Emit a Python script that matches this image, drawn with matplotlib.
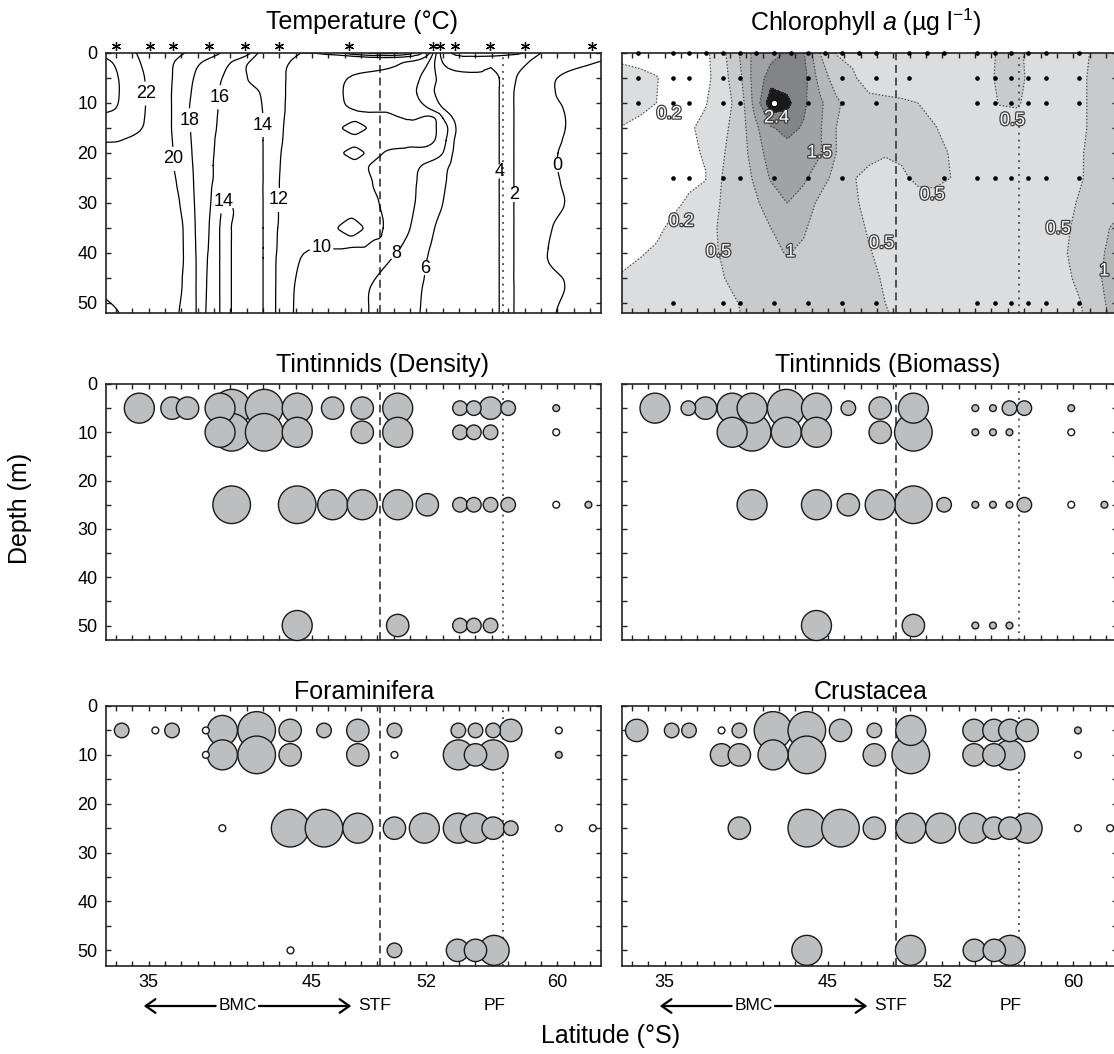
import numpy as np
import matplotlib.pyplot as plt
import matplotlib.tri as mtri
import matplotlib.patheffects as pe
from matplotlib.ticker import FixedLocator, MultipleLocator
from matplotlib.transforms import blended_transform_factory

plt.rcParams['font.family'] = ['Liberation Sans', 'DejaVu Sans']
plt.rcParams['mathtext.fontset'] = 'custom'
plt.rcParams['mathtext.rm'] = 'Liberation Sans'
plt.rcParams['mathtext.it'] = 'Liberation Sans:italic'

# fronts and axis
stf_lat = 49.15
pf_lat = 56.7
lat_ticks = [35, 45, 52, 60]

# ---------------- temperature section (isotherm crossings along each depth) ----------------
temp_depth = [0, 2, 5, 8, 11, 13, 15, 17.5, 20, 22.5, 26, 30, 35, 39, 41, 46, 52]
temp_knots = [
    [(32.39, 23.6), (34.25, 22), (37.2, 20), (39.4, 18), (41.24, 16), (41.7, 14), (44.3, 12), (52.2, 10), (52.4, 8), (52.6, 6), (52.85, 4), (59.0, 2), (62.68, 0.6)],
    [(32.39, 24.3), (32.8, 24), (34.5, 22), (36.55, 20), (38.2, 18), (40.0, 16), (41.1, 14), (43.6, 12), (50.5, 10), (52.1, 8), (52.5, 6), (53.0, 4), (56.3, 3.8), (58.2, 2), (62.3, 0), (62.68, -0.1)],
    [(32.39, 24.6), (33.15, 24), (34.75, 22), (36.45, 20), (37.75, 18), (39.5, 16), (41.05, 14), (43.4, 12), (47.2, 10), (51.6, 8), (52.6, 6), (56.45, 4), (57.5, 2), (60.0, 0), (62.68, -0.5)],
    [(32.39, 24.6), (33.2, 24), (34.85, 22), (36.4, 20), (37.6, 18), (39.35, 16), (41.8, 14), (43.38, 12), (46.9, 10), (51.4, 8), (52.5, 6), (56.45, 4), (57.35, 2), (59.9, 0), (62.68, -0.5)],
    [(32.39, 24.3), (33.0, 24), (34.8, 22), (36.4, 20), (37.5, 18), (39.25, 16), (41.95, 14), (43.35, 12), (47.3, 10), (52.1, 8), (53.0, 6), (56.45, 4), (57.35, 2), (60.35, 0), (62.68, -0.5)],
    [(32.39, 23.6), (34.75, 22), (36.4, 20), (37.5, 18), (39.2, 16), (42.0, 14), (43.3, 12), (52.5, 10), (53.0, 8), (53.6, 6), (56.45, 4), (57.35, 2), (60.5, 0), (62.68, -0.5)],
    [(32.39, 23.0), (34.6, 22), (36.4, 20), (37.55, 18), (39.15, 16), (42.0, 14), (43.25, 12), (46.5, 10.6), (47.6, 8.6), (48.7, 10.6), (50.5, 10.5), (52.6, 10), (53.3, 8), (53.8, 6), (56.45, 4), (57.35, 2), (60.5, 0), (62.68, -0.5)],
    [(32.39, 22.1), (33.3, 22), (36.45, 20), (37.6, 18), (39.05, 16), (42.0, 14), (43.2, 12), (50.5, 10.5), (52.5, 10), (53.2, 8), (53.7, 6), (56.45, 4), (57.35, 2), (60.3, 0), (62.68, -0.5)],
    [(32.39, 21.6), (36.5, 20), (37.65, 18), (39.0, 16), (42.0, 14), (43.1, 12), (46.6, 10.6), (47.6, 8.7), (48.5, 10.6), (48.9, 10.5), (49.35, 10), (53.0, 8), (53.6, 6), (56.45, 4), (57.35, 2), (60.05, 0), (62.68, -0.5)],
    [(32.39, 21.5), (36.55, 20), (37.7, 18), (38.95, 16), (42.0, 14), (43.05, 12), (48.5, 10), (51.7, 8), (53.4, 6), (56.45, 4), (57.35, 2), (60.0, 0), (62.68, -0.5)],
    [(32.39, 21.4), (36.7, 20), (37.75, 18), (38.9, 16), (42.0, 14), (43.0, 12), (48.7, 10), (51.4, 8), (53.2, 6), (56.45, 4), (57.35, 2), (60.2, 0), (62.68, -0.5)],
    [(32.39, 21.4), (36.9, 20), (37.8, 18), (38.8, 16), (39.55, 14), (39.7, 13.9), (39.85, 14), (41.0, 14.4), (42.0, 14), (42.95, 12), (49.1, 10), (51.3, 8), (53.0, 6), (56.45, 4), (57.35, 2), (60.45, 0), (62.68, -0.5)],
    [(32.39, 21.4), (37.1, 20), (37.85, 18), (38.7, 16), (39.35, 14), (39.7, 13.7), (40.06, 14), (41.0, 14.4), (42.0, 14), (42.9, 12), (46.2, 10.6), (47.4, 8.6), (48.5, 10.6), (48.95, 10.6), (49.35, 10), (51.0, 8), (52.5, 6), (56.45, 4), (57.35, 2), (59.7, 0), (62.68, -0.5)],
    [(32.39, 21.45), (37.12, 20), (37.88, 18), (38.65, 16), (39.35, 14), (39.7, 13.7), (40.06, 14), (41.0, 14.4), (42.0, 14), (42.85, 12), (47.2, 10), (50.4, 8), (52.2, 6), (56.45, 4), (57.35, 2), (59.45, 0), (62.68, -0.5)],
    [(32.39, 21.5), (37.13, 20), (37.9, 18), (38.6, 16), (39.35, 14), (39.7, 13.7), (40.06, 14), (41.0, 14.4), (42.0, 14), (42.8, 12), (44.3, 10), (49.9, 8), (52.05, 6), (56.45, 4), (57.35, 2), (59.4, 0), (62.68, -0.5)],
    [(32.39, 21.7), (37.05, 20), (37.9, 18), (38.55, 16), (39.35, 14), (39.7, 13.7), (40.06, 14), (41.0, 14.4), (42.0, 14), (42.78, 12), (43.95, 10), (48.7, 8), (51.8, 6), (56.45, 4), (57.35, 2), (60.45, 0), (62.68, -0.5)],
    [(32.39, 22.3), (33.2, 22), (36.85, 20), (37.9, 18), (38.5, 16), (39.35, 14), (39.7, 13.7), (40.06, 14), (41.0, 14.4), (42.0, 14), (42.77, 12), (43.86, 10), (48.46, 8), (51.6, 6), (56.45, 4), (57.35, 2), (59.94, 0), (62.68, -0.5)],
]
# extra readings above and below the three small eddies near 47.5 S: (lat, depth, T)
eddy_lat = [47.6, 47.6, 47.6, 47.6, 47.4, 47.4]
eddy_dep = [12.9, 17.1, 18.1, 22.0, 31.8, 37.6]
eddy_t = [10.8, 10.8, 10.8, 10.6, 10.8, 10.6]

temp_label_lat = [34.93, 38.96, 37.66, 42.12, 36.79, 39.6, 42.99, 45.5, 50.24, 51.86, 56.5, 57.3, 60.1]
temp_label_dep = [8.1, 8.7, 13.4, 14.4, 21.1, 29.8, 29.4, 40.4, 40.4, 43.0, 23.7, 28.4, 22.4]
star_lat = [33.01, 35.10, 36.52, 38.70, 40.88, 42.99, 47.26, 52.42, 52.83, 53.74, 55.88, 58.01, 62.13]

# ---------------- chlorophyll a grid ----------------
chl_lat = [32.4, 33.5, 34.5, 35.5, 36.5, 37.5, 38.5, 39.5, 40.5, 41.5, 42.5, 43.5, 44.5, 45.5, 46.5, 47.5,
           48.5, 49.5, 50.5, 51.5, 52.5, 53.5, 54.5, 55.5, 56.5, 57.5, 58.5, 59.5, 60.5, 61.5, 62.7]
chl_depth = [0, 5, 10, 15, 20, 25, 30, 35, 40, 45, 50, 53]
chl = np.array([
    [0.12, 0.1, 0.1, 0.08, 0.1, 0.15, 0.35, 0.95, 1.65, 1.85, 2.05, 2.05, 1.0, 0.48, 0.42, 0.35, 0.3, 0.3, 0.3, 0.3, 0.3, 0.3, 0.35, 0.55, 0.58, 0.4, 0.35, 0.38, 0.42, 0.58, 0.7],
    [0.3, 0.26, 0.21, 0.12, 0.13, 0.15, 0.3, 0.8, 1.7, 2.2, 2.2, 2.2, 1.3, 0.75, 0.55, 0.35, 0.3, 0.28, 0.28, 0.28, 0.28, 0.3, 0.35, 0.58, 0.62, 0.4, 0.35, 0.38, 0.45, 0.6, 0.72],
    [0.3, 0.25, 0.2, 0.1, 0.15, 0.19, 0.3, 0.62, 1.65, 2.7, 2.5, 2.1, 1.6, 1.1, 0.75, 0.6, 0.58, 0.55, 0.5, 0.4, 0.35, 0.3, 0.33, 0.52, 0.55, 0.38, 0.33, 0.36, 0.45, 0.6, 0.72],
    [0.19, 0.15, 0.12, 0.1, 0.18, 0.24, 0.38, 0.68, 1.35, 1.95, 2.15, 1.95, 1.55, 1.0, 0.85, 0.72, 0.65, 0.62, 0.6, 0.52, 0.4, 0.33, 0.3, 0.3, 0.3, 0.3, 0.3, 0.35, 0.45, 0.6, 0.72],
    [0.12, 0.1, 0.1, 0.1, 0.16, 0.22, 0.45, 0.72, 1.2, 1.75, 1.8, 1.75, 1.55, 1.0, 0.75, 0.58, 0.52, 0.55, 0.6, 0.6, 0.48, 0.35, 0.3, 0.3, 0.3, 0.3, 0.3, 0.35, 0.48, 0.62, 0.75],
    [0.1, 0.1, 0.1, 0.12, 0.17, 0.19, 0.5, 0.75, 1.05, 1.55, 1.6, 1.6, 1.2, 0.85, 0.52, 0.42, 0.4, 0.45, 0.56, 0.58, 0.5, 0.38, 0.3, 0.3, 0.3, 0.3, 0.3, 0.36, 0.48, 0.65, 0.78],
    [0.1, 0.1, 0.12, 0.17, 0.22, 0.28, 0.53, 0.78, 0.92, 1.2, 1.5, 1.25, 0.9, 0.72, 0.55, 0.42, 0.38, 0.38, 0.38, 0.38, 0.35, 0.33, 0.3, 0.3, 0.3, 0.3, 0.32, 0.4, 0.55, 0.68, 0.85],
    [0.12, 0.14, 0.17, 0.23, 0.3, 0.36, 0.56, 0.78, 0.88, 1.0, 1.15, 1.05, 0.82, 0.7, 0.6, 0.47, 0.38, 0.36, 0.35, 0.35, 0.33, 0.32, 0.3, 0.3, 0.3, 0.32, 0.36, 0.45, 0.6, 0.85, 1.1],
    [0.17, 0.19, 0.22, 0.28, 0.35, 0.42, 0.52, 0.72, 0.82, 0.92, 1.02, 0.93, 0.8, 0.7, 0.62, 0.52, 0.42, 0.38, 0.36, 0.35, 0.33, 0.32, 0.3, 0.3, 0.3, 0.32, 0.38, 0.48, 0.62, 0.92, 1.15],
    [0.21, 0.24, 0.27, 0.32, 0.38, 0.44, 0.48, 0.6, 0.72, 0.82, 0.85, 0.82, 0.75, 0.68, 0.62, 0.56, 0.47, 0.4, 0.37, 0.35, 0.33, 0.32, 0.3, 0.3, 0.3, 0.32, 0.36, 0.44, 0.58, 0.95, 1.2],
    [0.26, 0.28, 0.3, 0.34, 0.38, 0.42, 0.45, 0.5, 0.62, 0.72, 0.78, 0.76, 0.7, 0.65, 0.6, 0.56, 0.5, 0.42, 0.37, 0.35, 0.33, 0.32, 0.3, 0.3, 0.3, 0.32, 0.35, 0.4, 0.5, 0.9, 1.15],
    [0.27, 0.3, 0.32, 0.36, 0.4, 0.43, 0.45, 0.48, 0.58, 0.68, 0.75, 0.74, 0.68, 0.64, 0.6, 0.57, 0.53, 0.44, 0.38, 0.36, 0.34, 0.32, 0.3, 0.3, 0.3, 0.32, 0.35, 0.4, 0.46, 0.85, 1.12],
])
chl_levels = [0.2, 0.5, 1, 1.5, 2, 2.4]
chl_colors = ['white', '#dcdddf', '#c9cacc', '#b5b6b8', '#a1a2a5', '#838488', '#1a1a1a']

# sampling points of chlorophyll
chl_dots_0 = [33.39, 35.49, 36.50, 37.53, 38.55, 39.62, 40.61, 41.69, 42.73, 43.78, 44.82, 45.87, 46.91, 47.94,
              49.97, 51.07, 52.12, 54.13, 55.20, 56.22, 57.25, 58.33, 60.38]
chl_dots_5 = [33.39, 35.49, 36.50, 38.55, 39.62, 43.78, 45.87, 47.94, 49.97, 54.13, 55.20, 56.22, 57.25, 58.33, 60.38]
chl_dots_10 = [33.39, 35.49, 36.50, 38.55, 39.62, 43.78, 45.87, 47.94, 54.13, 55.20, 56.22, 57.25, 58.33, 60.38]
chl_open_10 = [41.69]
chl_dots_25 = [35.49, 36.50, 38.55, 39.62, 41.69, 43.78, 45.87, 49.97, 52.12, 54.13, 55.20, 56.22, 57.25, 58.33, 60.38]
chl_dots_50 = [35.49, 38.55, 39.62, 41.69, 43.78, 45.87, 47.94, 54.13, 55.20, 56.22, 57.25, 58.33, 60.38]

chl_label_text = ['0.2', '2.4', '1.5', '0.5', '0.5', '0.2', '0.5', '1', '0.5', '0.5', '1']
chl_label_lat = [35.27, 41.84, 44.47, 56.28, 51.37, 36.02, 38.29, 42.7, 48.27, 59.08, 61.9]
chl_label_dep = [12.2, 13.0, 20.0, 13.5, 28.4, 33.7, 39.8, 39.8, 38.1, 35.2, 43.6]

# ---------------- bubble panels: abundance class per sample (0 = open circle) ----------------
dens_lat = [34.43, 36.43, 37.38, 39.37, 40.08, 42.07, 44.09, 46.26, 48.07, 50.24, 54.05, 54.90, 55.92, 57.00, 59.94,
            39.37, 40.08, 42.07, 44.09, 48.07, 50.24, 54.05, 54.90, 55.92, 59.94,
            40.08, 44.09, 46.26, 48.07, 50.24, 52.05, 54.05, 54.90, 55.92, 57.00, 59.94, 61.91,
            44.09, 50.24, 54.05, 54.90, 55.92]
dens_dep = [5] * 15 + [10] * 10 + [25] * 12 + [50] * 5
dens_cls = [4, 3, 3, 4, 5, 5, 4, 3, 3, 4, 2, 2, 3, 2, 1,
            4, 5, 5, 4, 3, 4, 2, 2, 2, 0,
            5, 5, 4, 4, 4, 3, 2, 2, 2, 2, 0, 1,
            4, 3, 2, 2, 2]

biom_lat = [34.41, 36.45, 37.50, 39.13, 40.35, 42.44, 44.29, 46.24, 48.19, 50.22, 54.01, 55.09, 56.10, 57.01, 59.88,
            39.13, 40.35, 42.44, 44.29, 48.19, 50.22, 54.01, 55.09, 56.10, 59.88,
            40.35, 44.29, 46.24, 48.19, 50.22, 52.10, 54.01, 55.09, 56.10, 57.01, 59.88, 61.91,
            44.29, 50.22, 54.01, 55.09, 56.10]
biom_dep = [5] * 15 + [10] * 10 + [25] * 12 + [50] * 5
biom_cls = [4, 2, 3, 4, 4, 5, 4, 2, 3, 4, 1, 1, 2, 2, 1,
            4, 5, 4, 4, 3, 5, 1, 1, 1, 0,
            4, 4, 3, 4, 5, 2, 1, 1, 1, 2, 0, 1,
            4, 3, 1, 1, 1]

fora_lat = [33.35, 35.41, 36.43, 38.50, 39.51, 41.61, 43.66, 45.73, 47.80, 50.04, 53.95, 55.00, 56.08, 57.16, 60.10,
            38.50, 39.51, 41.61, 43.66, 47.80, 50.04, 53.95, 55.00, 56.08, 60.10,
            39.51, 43.66, 45.73, 47.80, 50.04, 51.87, 53.95, 55.00, 56.08, 57.16, 60.10, 62.18,
            43.68, 50.04, 53.90, 55.00, 56.14]
fora_dep = [5] * 15 + [10] * 10 + [25] * 12 + [50] * 5
fora_cls = [2, 0, 2, 0, 4, 5, 3, 2, 3, 2, 2, 2, 2, 3, 0,
            0, 4, 5, 3, 3, 0, 4, 3, 4, 1,
            0, 5, 5, 4, 3, 4, 4, 4, 3, 2, 0, 0,
            0, 2, 3, 3, 4]

crus_lat = [33.29, 35.43, 36.49, 38.48, 39.57, 41.63, 43.70, 45.76, 47.83, 50.06, 53.93, 55.15, 56.12, 57.18, 60.29,
            38.48, 39.57, 41.63, 43.70, 47.83, 50.06, 53.93, 55.15, 56.12, 60.29,
            39.57, 43.70, 45.76, 47.83, 50.06, 51.89, 53.93, 55.15, 56.12, 57.18, 60.29, 62.26,
            43.70, 50.04, 53.95, 55.17, 56.14]
crus_dep = [5] * 15 + [10] * 10 + [25] * 12 + [50] * 5
crus_cls = [3, 2, 2, 0, 2, 5, 5, 3, 2, 4, 3, 3, 3, 3, 1,
            3, 3, 4, 5, 3, 5, 3, 3, 4, 0,
            3, 5, 5, 3, 4, 4, 4, 3, 3, 4, 0, 0,
            4, 4, 3, 3, 4]

class_radius_px = [3.4, 3.4, 7.3, 11.2, 15.0, 18.8]

# ---------------- figure ----------------
W, H = 1114, 1054
fig = plt.figure(figsize=(W / 100, H / 100), dpi=100)


def add_panel(x0, y0, y1):
    return fig.add_axes([x0 / W, 1 - y1 / H, 495 / W, (y1 - y0) / H])


ax_t = add_panel(106, 53, 313)
ax_c = add_panel(622, 53, 313)
ax_d = add_panel(106, 384, 640)
ax_b = add_panel(622, 384, 640)
ax_f = add_panel(106, 706, 966)
ax_k = add_panel(622, 706, 966)


def style(ax, ymax, left_labels, bottom_labels):
    ax.set_xlim(32.39, 62.68)
    ax.set_ylim(ymax, 0)
    ax.xaxis.set_major_locator(FixedLocator(lat_ticks))
    ax.xaxis.set_minor_locator(MultipleLocator(1))
    ax.yaxis.set_major_locator(MultipleLocator(10))
    ax.yaxis.set_minor_locator(MultipleLocator(5))
    ax.tick_params(which='both', direction='in', top=True, right=True, length=3.5, width=1,
                   color='#222222', labelsize=13, pad=6,
                   labelleft=left_labels, labelbottom=bottom_labels)
    for s in ax.spines.values():
        s.set_linewidth(1.2)
        s.set_color('#222222')
    ax.axvline(stf_lat, color='#444444', lw=1.3, ls=(0, (4.4, 2.6)), zorder=2)
    ax.axvline(pf_lat, color='#444444', lw=1.3, ls=(0, (1.0, 2.8)), zorder=2)


style(ax_t, 52, True, False)
style(ax_c, 52, False, False)
style(ax_d, 53, True, False)
style(ax_b, 53, False, False)
style(ax_f, 53.2, True, True)
style(ax_k, 53.2, False, True)

# temperature contours: knots triangulated row to row, smoothed by matplotlib's cubic refiner
lat_pts = np.array([la for row in temp_knots for la, _ in row] + eddy_lat)
dep_pts = np.array([d for d, row in zip(temp_depth, temp_knots) for _ in row] + eddy_dep, dtype=float)
t_pts = np.array([t for row in temp_knots for _, t in row] + eddy_t)
scaled = mtri.Triangulation(lat_pts * 3.0, dep_pts)
tri = mtri.Triangulation(lat_pts, dep_pts, scaled.triangles)
tri_fine, t_fine = mtri.UniformTriRefiner(tri).refine_field(
    t_pts, triinterpolator=mtri.CubicTriInterpolator(tri, t_pts, kind='geom'), subdiv=3)
cs = ax_t.tricontour(tri_fine, t_fine, levels=np.arange(0, 25, 2), colors='black', linewidths=0.9)
tl = ax_t.clabel(cs, manual=list(zip(temp_label_lat, temp_label_dep)), inline=True,
                 inline_spacing=2, fontsize=13, fmt='%d')
for t in tl:
    t.set_rotation(0)
ax_t.plot(star_lat, [-1.3] * len(star_lat), ls='none', marker=(6, 2, 0), ms=6.5, mew=0.9,
          color='black', clip_on=False)

# chlorophyll
ax_c.contourf(chl_lat, chl_depth, chl, levels=[0] + chl_levels + [10], colors=chl_colors, zorder=0)
ax_c.contour(chl_lat, chl_depth, chl, levels=chl_levels, colors='#444444', linewidths=0.9,
             linestyles=':', zorder=1)
for lats, d in [(chl_dots_0, 0), (chl_dots_5, 5), (chl_dots_10, 10), (chl_dots_25, 25), (chl_dots_50, 50)]:
    ax_c.scatter(lats, [d] * len(lats), s=11, c='black', lw=0, zorder=4, clip_on=False)
ax_c.scatter(chl_open_10, [10], s=22, facecolors='white', edgecolors='black', lw=0.8, zorder=4)
for txt, la, d in zip(chl_label_text, chl_label_lat, chl_label_dep):
    ax_c.text(la, d, txt, fontsize=13, ha='center', va='center', color='white', zorder=5,
              path_effects=[pe.withStroke(linewidth=1.8, foreground='#3a3a3a')])


def bubbles(ax, lat, dep, cls):
    lat = np.array(lat)
    dep = np.array(dep)
    cls = np.array(cls)
    order = np.argsort(-cls, kind='stable')
    r = np.array(class_radius_px)[cls[order]]
    face = np.where(cls[order] == 0, 'white', '#bcbec0')
    ax.scatter(lat[order], dep[order], s=(1.44 * r) ** 2, c=face, edgecolors='#1a1a1a',
               linewidths=1.0, zorder=3, clip_on=False)


bubbles(ax_d, dens_lat, dens_dep, dens_cls)
bubbles(ax_b, biom_lat, biom_dep, biom_cls)
bubbles(ax_f, fora_lat, fora_dep, fora_cls)
bubbles(ax_k, crus_lat, crus_dep, crus_cls)

# titles
titles = [('Temperature (°C)', 362, 22), ('Chlorophyll $\\mathit{a}$ (µg l$^{-1}$)', 866, 22),
          ('Tintinnids (Density)', 383, 365), ('Tintinnids (Biomass)', 888, 365),
          ('Foraminifera', 364, 692), ('Crustacea', 871, 692)]
for txt, cx, cy in titles:
    fig.text(cx / W, 1 - cy / H, txt, ha='center', va='center', fontsize=18)

fig.text(20 / W, 1 - 508 / H, 'Depth (m)', rotation=90, ha='center', va='center', fontsize=18)
fig.text(611 / W, 1 - 1036 / H, 'Latitude (°S)', ha='center', va='center', fontsize=18)

# water mass annotations under the bottom panels
for ax in (ax_f, ax_k):
    tr = blended_transform_factory(ax.transData, fig.transFigure)
    yb = 1 - 1006 / H
    arrow = dict(arrowstyle='->,head_length=0.5,head_width=0.35', lw=1.6, color='black',
                 shrinkA=0, shrinkB=0, mutation_scale=14)
    ax.annotate('', xy=(34.7, yb), xytext=(39.1, yb), xycoords=tr, textcoords=tr,
                arrowprops=arrow, annotation_clip=False)
    ax.annotate('', xy=(47.4, yb), xytext=(41.75, yb), xycoords=tr, textcoords=tr,
                arrowprops=arrow, annotation_clip=False)
    ax.text(40.45, yb, 'BMC', transform=tr, ha='center', va='center', fontsize=12.5)
    ax.text(48.85, yb, 'STF', transform=tr, ha='center', va='center', fontsize=12.5)
    ax.text(56.2, yb, 'PF', transform=tr, ha='center', va='center', fontsize=12.5)

fig.savefig('out.png', dpi=100)
